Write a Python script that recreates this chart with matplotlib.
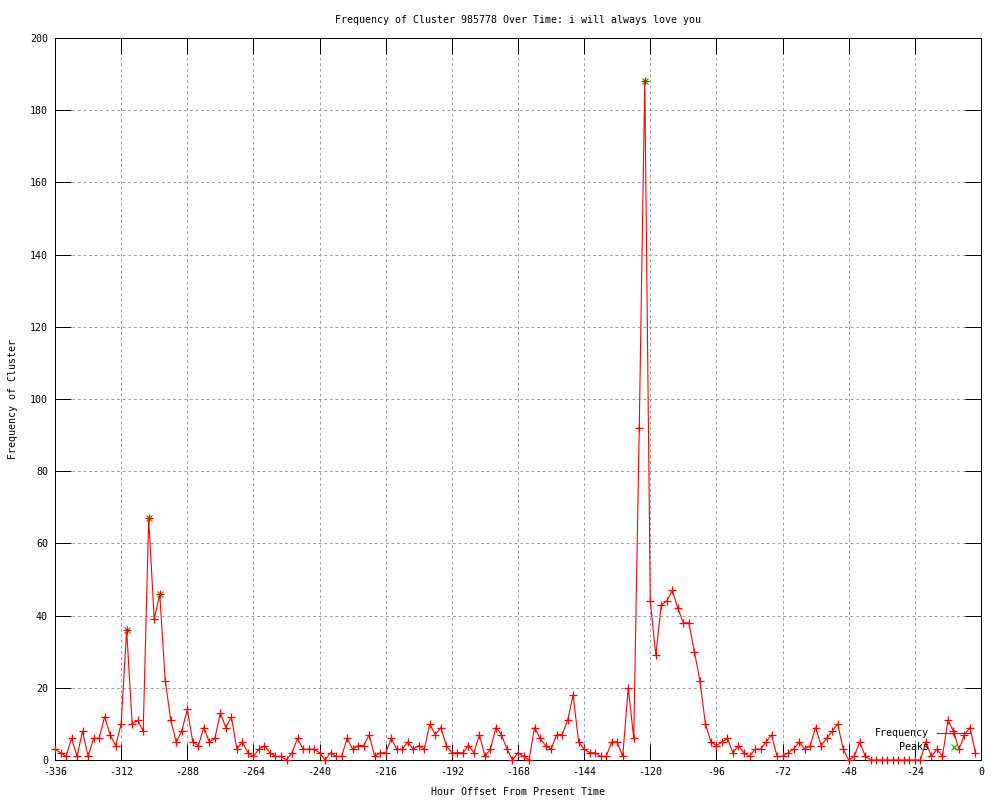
import numpy as np
import matplotlib
matplotlib.use("Agg")
import matplotlib.pyplot as plt

# counts per 2-hour bin, from -336 h up to -2 h
freq = [3, 2, 1, 6, 1, 8, 1, 6, 6, 12, 7, 4,
        10, 36, 10, 11, 8, 67, 39, 46, 22, 11, 5, 8,
        14, 5, 4, 9, 5, 6, 13, 9, 12, 3, 5, 2,
        1, 3, 4, 2, 1, 1, 0, 2, 6, 3, 3, 3,
        2, 0, 2, 1, 1, 6, 3, 4, 4, 7, 1, 2,
        2, 6, 3, 3, 5, 3, 4, 3, 10, 7, 9, 4,
        2, 2, 2, 4, 2, 7, 1, 3, 9, 7, 3, 0,
        2, 1, 0, 9, 6, 4, 3, 7, 7, 11, 18, 5,
        3, 2, 2, 1, 1, 5, 5, 1, 20, 6, 92, 188,
        44, 29, 43, 44, 47, 42, 38, 38, 30, 22, 10, 5,
        4, 5, 6, 2, 4, 2, 1, 3, 3, 5, 7, 1,
        1, 2, 3, 5, 3, 4, 9, 4, 6, 8, 10, 3,
        0, 1, 5, 1, 0, 0, 0, 0, 0, 0, 0, 0,
        0, 0, 5, 1, 3, 1, 11, 8, 3, 7, 9, 2]
hours = np.arange(-336, 0, 2)

peak_hours = [-310, -302, -298, -122]
peak_vals = [36, 67, 46, 188]

x_ticks = list(range(-336, 1, 24))
y_ticks = list(range(0, 201, 20))

title = "Frequency of Cluster 985778 Over Time: i will always love you"

mono = "DejaVu Sans Mono"
fs = 7.2
px = 0.72  # one pixel in points

fig = plt.figure(figsize=(10, 8), dpi=100)
ax = fig.add_axes([0.055, 0.05, 0.926, 0.9025])

ax.plot(peak_hours, peak_vals, linestyle="none", marker="x", color="#00c000",
        markersize=5, markeredgewidth=0.9, label="Peaks", clip_on=False, zorder=3)
ax.plot(hours, freq, color="#ff0000", linewidth=0.8, marker="+", markersize=5.5,
        markeredgewidth=0.9, label="Frequency", clip_on=False, zorder=4)

ax.set_xlim(-336, 0)
ax.set_ylim(0, 200)
ax.set_xticks(x_ticks)
ax.set_yticks(y_ticks)
ax.set_xticklabels([str(t) for t in x_ticks], fontfamily=mono, fontsize=fs)
ax.set_yticklabels([str(t) for t in y_ticks], fontfamily=mono, fontsize=fs)
ax.tick_params(direction="in", length=11.5, width=px, color="black",
               top=True, right=True, pad=5)

ax.grid(True, color="#a0a0a0", linewidth=px, linestyle=(0, (2.8, 2.8)))
ax.set_axisbelow(True)
for s in ax.spines.values():
    s.set_linewidth(px)
    s.set_color("black")

ax.set_title(title, fontfamily=mono, fontsize=fs, pad=11)
ax.set_xlabel("Hour Offset From Present Time", fontfamily=mono, fontsize=fs)
ax.set_ylabel("Frequency of Cluster", fontfamily=mono, fontsize=fs)
ax.xaxis.set_label_coords(0.5, -0.0374)
ax.yaxis.set_label_coords(-0.040, 0.5)

handles, labels = ax.get_legend_handles_labels()
ax.legend(handles[::-1], labels[::-1], loc="lower right",
          bbox_to_anchor=(0.970, 1 - 752 / 800), bbox_transform=fig.transFigure,
          frameon=False, markerfirst=False, prop={"family": mono, "size": fs},
          handlelength=3.3, handletextpad=0.8, labelspacing=0.35,
          borderpad=0, borderaxespad=0, numpoints=1)

fig.savefig("out.png", dpi=100)
